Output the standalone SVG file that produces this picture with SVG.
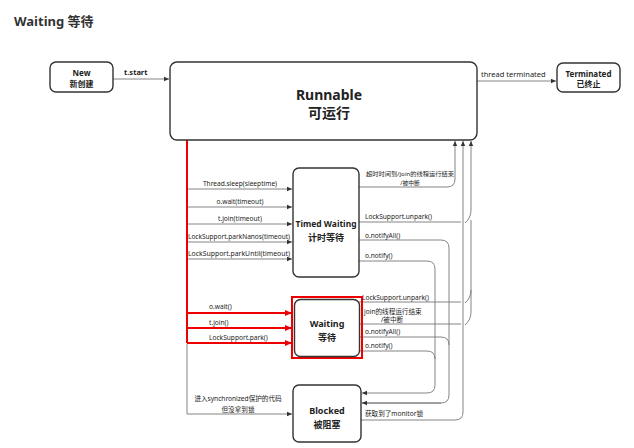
<svg xmlns="http://www.w3.org/2000/svg" width="634" height="448" viewBox="0 0 634 448">
<defs>
<marker id="ah" markerWidth="6" markerHeight="6" refX="5" refY="3" orient="auto" markerUnits="userSpaceOnUse"><path d="M0,0.8 L5,3 L0,5.2 Z" fill="#333"/></marker>
<marker id="ahr" markerWidth="8" markerHeight="8" refX="7" refY="4" orient="auto" markerUnits="userSpaceOnUse"><path d="M0,1 L7,4 L0,7 Z" fill="#e00"/></marker>
</defs>
<style>
text{font-family:"Noto Sans","Noto Sans CJK SC",sans-serif;fill:#222}
.box{fill:#fff;stroke:#333;stroke-width:1.4}
.nt{font-size:9px;font-weight:bold;text-anchor:middle}
.big{font-size:14px;font-weight:bold;text-anchor:middle}
.lb{font-size:6.6px}
.c{fill:none;stroke:#777;stroke-width:0.9}
.ca{fill:none;stroke:#777;stroke-width:0.9;marker-end:url(#ah)}
.r{fill:none;stroke:#e00;stroke-width:2}
.ra{fill:none;stroke:#e00;stroke-width:2;marker-end:url(#ahr)}
</style>
<rect width="634" height="448" fill="#fff"/>
<text x="14" y="26" style="font-size:13px;font-weight:bold;fill:#333">Waiting 等待</text>

<g id="connectors">
<path class="ca" d="M113,79 H169"/>
<text class="lb" x="124" y="75" style="font-size:7.5px;font-weight:bold">t.start</text>
<path class="ca" d="M477,81 H556"/>
<text class="lb" x="481" y="77" style="font-size:7.5px">thread terminated</text>

<path class="r" d="M187,140 V343"/>
<path class="ra" d="M187,313 H292"/>
<path class="ra" d="M187,328 H292"/>
<path class="ra" d="M187,343 H292"/>
<path class="ca" d="M187,344 V414 H292"/>

<path class="ca" d="M188,189 H292"/>
<path class="ca" d="M188,207 H292"/>
<path class="ca" d="M188,224 H292"/>
<path class="ca" d="M188,242 H292"/>
<path class="ca" d="M188,259 H292"/>

<path class="ca" d="M359,187 H447 Q455,187 455,179 V141"/>
<path class="c" d="M359,222 H461"/>
<path class="ca" d="M465,223 Q471,218 471,210 V141"/>
<path class="c" d="M359,240 H441 Q449,240 449,248 V395 Q449,403 441,403 H362"/>
<path class="ca" d="M441,403 H362"/>
<path class="c" d="M359,261 H427 Q435,261 435,269 V385 Q435,393 427,393"/>
<path class="ca" d="M427,393 H362"/>

<path class="c" d="M359,302 H461"/>
<path class="c" d="M465,303 Q471,298 471,290"/>
<path class="c" d="M359,324 H461"/>
<path class="c" d="M465,325 Q471,320 471,312 V220"/>
<path class="c" d="M359,337 H441 Q449,337 449,345"/>
<path class="c" d="M359,351 H427 Q435,351 435,359"/>
<path class="ca" d="M361,420 H455 Q463,420 463,412 V141"/>

<text class="lb" x="240" y="186" text-anchor="middle">Thread.sleep(sleeptime)</text>
<text class="lb" x="240" y="204" text-anchor="middle">o.wait(timeout)</text>
<text class="lb" x="240" y="221" text-anchor="middle">t.join(timeout)</text>
<text class="lb" x="239" y="239" text-anchor="middle" textLength="102" lengthAdjust="spacingAndGlyphs">LockSupport.parkNanos(timeout)</text>
<text class="lb" x="239" y="256" text-anchor="middle" textLength="102" lengthAdjust="spacingAndGlyphs">LockSupport.parkUntil(timeout)</text>

<text class="lb" x="209" y="309">o.wait()</text>
<text class="lb" x="209" y="325">t.join()</text>
<text class="lb" x="209" y="340">LockSupport.park()</text>
<text class="lb" x="238" y="401" text-anchor="middle">进入synchronized保护的代码</text>
<text class="lb" x="238" y="412" text-anchor="middle">但没拿到锁</text>

<text class="lb" x="410" y="176" text-anchor="middle" style="font-size:5.8px" textLength="88" lengthAdjust="spacingAndGlyphs">超时时间到/join的线程运行结束</text>
<text class="lb" x="410" y="184.5" text-anchor="middle" style="font-size:5.8px">/被中断</text>
<text class="lb" x="365" y="219">LockSupport.unpark()</text>
<text class="lb" x="365" y="238">o.notifyAll()</text>
<text class="lb" x="365" y="258">o.notify()</text>

<text class="lb" x="362" y="300">LockSupport.unpark()</text>
<text class="lb" x="364" y="314">join的线程运行结束</text>
<text class="lb" x="392" y="322" text-anchor="middle">/被中断</text>
<text class="lb" x="365" y="334">o.notifyAll()</text>
<text class="lb" x="365" y="348">o.notify()</text>
<text class="lb" x="365" y="416">获取到了monitor锁</text>
</g>

<g id="new">
<rect class="box" x="50" y="62" width="63" height="30" rx="6"/>
<text class="nt" x="81.5" y="76" style="font-size:8px">New</text>
<text class="nt" x="81.5" y="87" style="font-size:8px">新创建</text>
</g>
<g id="runnable">
<rect class="box" x="170" y="62" width="307" height="78" rx="7"/>
<text class="big" x="329" y="100">Runnable</text>
<text class="big" x="329" y="118">可运行</text>
</g>
<g id="terminated">
<rect class="box" x="557" y="63" width="63" height="29" rx="6"/>
<text class="nt" x="588.5" y="77" style="font-size:8px">Terminated</text>
<text class="nt" x="588.5" y="87" style="font-size:8px">已终止</text>
</g>
<g id="timed-waiting">
<rect class="box" x="293" y="168" width="66" height="109" rx="6"/>
<text class="nt" x="326" y="227" textLength="61" lengthAdjust="spacingAndGlyphs">Timed Waiting</text>
<text class="nt" x="326" y="241">计时等待</text>
</g>
<g id="waiting">
<rect x="292" y="297" width="70" height="61" fill="none" stroke="#e00" stroke-width="2"/>
<rect class="box" x="294.5" y="299.5" width="65" height="57" rx="6"/>
<text class="nt" x="327" y="327">Waiting</text>
<text class="nt" x="327" y="341">等待</text>
</g>
<g id="blocked">
<rect class="box" x="293" y="385" width="68" height="57" rx="6"/>
<text class="nt" x="327" y="414">Blocked</text>
<text class="nt" x="327" y="428">被阻塞</text>
</g>
</svg>
